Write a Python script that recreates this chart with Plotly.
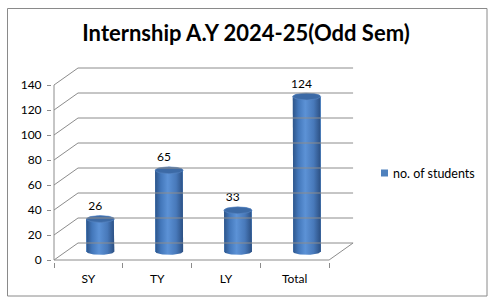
import numpy as np
import plotly.graph_objects as go

# ---- data ----
categories = ["SY", "TY", "LY", "Total"]
values = [26, 65, 33, 124]
series_name = "no. of students"
title_text = "Internship A.Y 2024-25(Odd Sem)"
y_ticks = [0, 20, 40, 60, 80, 100, 120, 140]

# ---- layout geometry (pixels) ----
W, H = 493, 299
ML, MR, MT, MB = 52, 139, 66, 37
PW, PH = W - ML - MR, H - MT - MB
SX = 68.77          # px per category unit
SY = 1.25           # px per value unit
FRONT_X0_PX = 54    # px of front y-axis
FRONT_Y0_PX = 260   # px of value 0 (front)
x0 = -0.5 - (FRONT_X0_PX - ML) / SX
x1 = x0 + PW / SX
y0 = -(H - MB - FRONT_Y0_PX) / SY
y1 = y0 + PH / SY


def px_to_paper_x(px):
    return (px - ML) / PW


def px_to_paper_y(py):
    return (H - MB - py) / PH


DX = 24 / SX        # depth offset in category units
DY = 17 / SY        # depth offset in value units
ymax = y_ticks[-1]
n = len(categories)

GRID = "#8c8c8c"
BAR_COLOR = "#4f81bd"
shapes = []
# back wall gridlines + left wall diagonals
for v in y_ticks:
    shapes.append(dict(type="line", xref="x", yref="y", x0=-0.5 + DX, x1=n - 0.5 + DX,
                       y0=v + DY, y1=v + DY, line=dict(color=GRID, width=1)))
    shapes.append(dict(type="line", xref="x", yref="y", x0=-0.5, x1=-0.5 + DX,
                       y0=v, y1=v + DY, line=dict(color=GRID, width=1)))
# front y axis line
shapes.append(dict(type="line", xref="x", yref="y", x0=-0.5, x1=-0.5, y0=0, y1=ymax,
                   line=dict(color=GRID, width=1)))
# front x axis line + right floor diagonal
shapes.append(dict(type="line", xref="x", yref="y", x0=-0.5, x1=n - 0.5, y0=0, y1=0,
                   line=dict(color=GRID, width=1)))
shapes.append(dict(type="line", xref="x", yref="y", x0=n - 0.5, x1=n - 0.5 + DX, y0=0, y1=DY,
                   line=dict(color=GRID, width=1)))
# outer chart border
shapes.append(dict(type="rect", xref="paper", yref="paper",
                   x0=px_to_paper_x(7.5), x1=px_to_paper_x(487),
                   y0=px_to_paper_y(296), y1=px_to_paper_y(8.5),
                   line=dict(color="#8a8a8a", width=1), layer="below"))
# legend key square
shapes.append(dict(type="rect", xref="paper", yref="paper",
                   x0=px_to_paper_x(381), x1=px_to_paper_x(388),
                   y0=px_to_paper_y(176.5), y1=px_to_paper_y(169.5),
                   fillcolor=BAR_COLOR, line=dict(width=0)))

fig = go.Figure()

HALF_W = 14 / SX
EB = 3.4 / SY

# base bar
fig.add_trace(go.Bar(
    x=list(range(n)), y=values, base=DY / 2, width=2 * HALF_W,
    offset=DX / 2 - HALF_W, marker=dict(color=BAR_COLOR, line=dict(width=0)),
    name=series_name, showlegend=False, hoverinfo="skip"))

t_low = np.linspace(np.pi, 2 * np.pi, 30)
t_up = np.linspace(0, np.pi, 30)
t_full = np.linspace(0, 2 * np.pi, 60)
grad = [[0, "#2d5488"], [0.2, "#4377ba"], [0.45, "#5c92d6"], [0.75, "#4879ba"], [1, "#2b4f82"]]
for i, v in enumerate(values):
    cx = i + DX / 2
    yb = DY / 2
    yt = v + DY / 2
    xs = [cx - HALF_W] + list(cx + HALF_W * np.cos(t_low)) + [cx + HALF_W] + list(cx + HALF_W * np.cos(t_up))
    ys = [yt] + list(yb + EB * np.sin(t_low)) + [yt] + list(yt + EB * np.sin(t_up))
    fig.add_trace(go.Scatter(x=xs, y=ys, mode="lines", fill="toself",
                             line=dict(width=0, color="#3a67a2"),
                             fillgradient=dict(type="horizontal", colorscale=grad,
                                               start=cx - HALF_W, stop=cx + HALF_W),
                             showlegend=False, hoverinfo="skip"))
    fig.add_trace(go.Scatter(x=list(cx + HALF_W * np.cos(t_full)), y=list(yt + EB * np.sin(t_full)),
                             mode="lines", fill="toself", fillcolor="#3c6aa6",
                             line=dict(width=0.6, color="#5a88c4"),
                             showlegend=False, hoverinfo="skip"))

# data labels
fig.add_trace(go.Scatter(x=[i + 0.1 for i in range(n)], y=[v + DY / 2 + 9.5 for v in values],
                         mode="text", text=[str(v) for v in values],
                         textfont=dict(family="Lato", size=12, color="#000000"),
                         textposition="middle center", showlegend=False, hoverinfo="skip"))

fig.update_layout(
    width=W, height=H,
    margin=dict(l=ML, r=MR, t=MT, b=MB, pad=0),
    paper_bgcolor="white", plot_bgcolor="white",
    showlegend=False,
    title=dict(text=f"<b>{title_text}</b>", x=246 / W, xanchor="center",
               y=1 - 33 / H, yanchor="middle",
               font=dict(family="Lato", size=22, color="#000000")),
    xaxis=dict(range=[x0, x1], type="linear", showgrid=False, zeroline=False, showline=False,
               tickvals=list(range(n)), ticktext=categories, ticks="",
               tickfont=dict(family="Lato", size=12, color="#000000"),
               ticklabelstandoff=8,
               minor=dict(tickvals=[i - 0.5 for i in range(n + 1)], ticks="outside",
                          ticklen=5, tickcolor=GRID, tickwidth=1, showgrid=False)),
    yaxis=dict(range=[y0, y1], showgrid=False, zeroline=False, showline=False,
               tickvals=y_ticks, ticks="outside", ticklen=4, tickcolor=GRID,
               tickfont=dict(family="Lato", size=12, color="#000000"),
               ticklabelstandoff=3),
    annotations=[dict(text=series_name, xref="paper", yref="paper",
                      x=px_to_paper_x(391), y=px_to_paper_y(173),
                      xanchor="left", yanchor="middle", showarrow=False,
                      font=dict(family="Lato", size=12.5, color="#000000"))],
    shapes=shapes,
    bargap=0,
)

fig.write_html("out.html")
